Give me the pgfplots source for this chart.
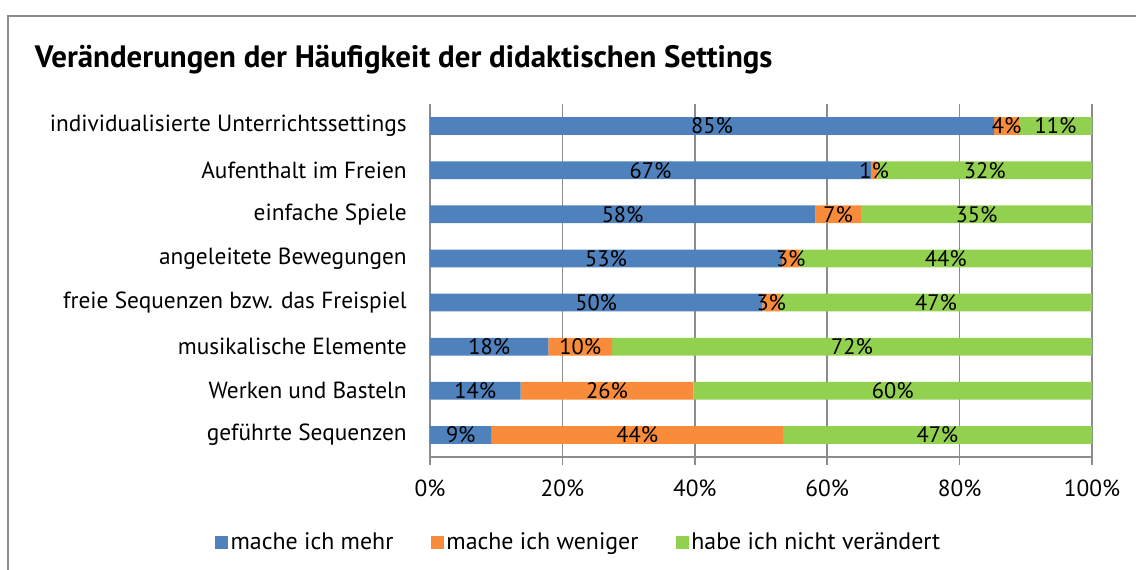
\documentclass[border=0pt]{standalone}
\usepackage{pgfplots}
\pgfplotsset{compat=1.18}
\usepackage{pgfplotstable}
\usepackage{fontspec}
\setmainfont{PT Sans}

\definecolor{cblue}{HTML}{4F81BD}
\definecolor{corange}{HTML}{F98C3A}
\definecolor{cgreen}{HTML}{92D050}
\definecolor{cgrid}{HTML}{8C8C8C}

% shares (b, o, g) and the printed labels (lb, lo, lg)
\pgfplotstableread{
row b    o    g    lb lo lg
1   9.3  44.0 46.7 9  44 47
2   13.7 26.1 60.2 14 26 60
3   17.9 9.6  72.5 18 10 72
4   50.2 2.7  47.1 50 3  47
5   53.2 2.6  44.2 53 3  44
6   58.2 6.9  34.9 58 7  35
7   66.6 1.0  32.4 67 1  32
8   85.2 3.8  11.0 85 4  11
}\data

\pgfplotsset{
  box/.style={
    scale only axis, width=496.5pt, height=264.75pt,
    at={(322.5pt,84.75pt)}, anchor=south west,
    xmin=0, xmax=100, ymin=0.5, ymax=8.5,
  },
  lbl/.style={draw=none, mark=none, point meta=explicit symbolic,
    nodes near coords={\pgfplotspointmeta\%},
    every node near coord/.append style={anchor=center, inner sep=0pt,
      font=\fontsize{16.8}{18}\selectfont, text=black}},
}

\begin{document}
\begin{tikzpicture}
\useasboundingbox (0,0) rectangle (852pt,427.5pt);
\draw[cgrid, line width=1.5pt] (6pt,-10pt) -- (6pt,415.5pt) -- (900pt,415.5pt);
\node[anchor=base west, inner sep=0pt, font=\bfseries\fontsize{23.2}{26}\selectfont] at (26pt,377pt)
  {Veränderungen der Häufigkeit der didaktischen Settings};

\begin{axis}[box,
  xbar stacked, bar width=13.3pt,
  axis x line*=bottom, axis y line*=left,
  axis line style={cgrid, line width=1.2pt},
  tick align=outside, major tick length=6pt, minor tick length=6pt,
  xtick={0,20,...,100},
  xticklabels={0\%,20\%,40\%,60\%,80\%,100\%},
  xmajorgrids, major grid style={cgrid, line width=1.2pt},
  xtick style={cgrid, line width=1.2pt},
  ytick={1,...,8},
  yticklabels={geführte Sequenzen, Werken und Basteln, musikalische Elemente,
    freie Sequenzen bzw. das Freispiel, angeleitete Bewegungen, einfache Spiele,
    Aufenthalt im Freien, individualisierte Unterrichtssettings},
  ytick style={draw=none},
  minor ytick={0.5,1.5,...,8.5},
  minor tick style={cgrid, line width=1.2pt},
  tick label style={font=\fontsize{17.5}{19}\selectfont, text=black},
  xticklabel style={inner sep=0pt, yshift=-11pt},
  yticklabel style={inner sep=0pt, xshift=-11.25pt},
  legend style={at={(0.225,-0.241)}, anchor=center, draw=none,
    font=\fontsize{17.9}{19}\selectfont, legend columns=3,
    /tikz/every even column/.append style={column sep=26pt}},
  legend image code/.code={\fill[#1] (0pt,-4.9pt) rectangle (9.75pt,4.85pt);},
]
\addplot[fill=cblue, draw=none] table[x=b, y=row] {\data};
\addplot[fill=corange, draw=none] table[x=o, y=row] {\data};
\addplot[fill=cgreen, draw=none] table[x=g, y=row] {\data};
\legend{mache ich mehr, mache ich weniger, habe ich nicht verändert}
\end{axis}

\begin{axis}[box, hide axis, clip=false]
\addplot[lbl] table[x expr=\thisrow{b}/2, y=row, meta=lb] {\data};
\addplot[lbl] table[x expr=\thisrow{b}+\thisrow{o}/2, y=row, meta=lo] {\data};
\addplot[lbl] table[x expr=\thisrow{b}+\thisrow{o}+\thisrow{g}/2, y=row, meta=lg] {\data};
\end{axis}
\end{tikzpicture}
\end{document}
